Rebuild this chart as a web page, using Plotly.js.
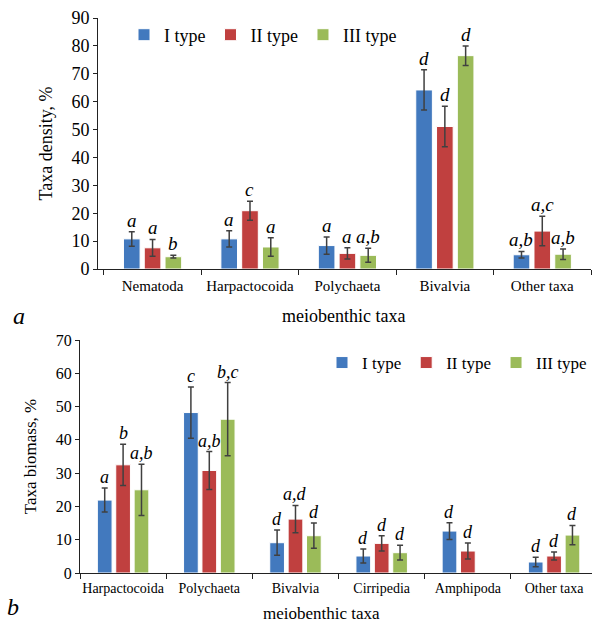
<!DOCTYPE html>
<html>
<head>
<meta charset="utf-8">
<script src="https://cdn.plot.ly/plotly-3.0.1.min.js"></script>
<style>html,body{margin:0;padding:0;background:#fff;}#chart{width:592px;height:624px;}</style>
</head>
<body>
<div id="chart"></div>
<script>
// ---- Panel a: taxa density ----
const catsA = ['Nematoda', 'Harpactocoida', 'Polychaeta', 'Bivalvia', 'Other taxa'];
const densI = [10.8, 10.8, 8.4, 64.2, 5.1];
const densIErr = [2.6, 2.9, 3.1, 7.2, 1.2];
const densII = [7.6, 20.9, 5.6, 51.1, 13.6];
const densIIErr = [3.0, 3.4, 2.0, 7.3, 5.3];
const densIII = [4.4, 7.9, 4.9, 76.5, 5.3];
const densIIIErr = [0.5, 3.3, 2.5, 3.5, 1.9];
const lettersA_I = ['a', 'a', 'a', 'd', 'a,b'];
const lettersA_II = ['a', 'c', 'a', 'd', 'a,c'];
const lettersA_III = ['b', 'a', 'a,b', 'd', 'a,b'];

// ---- Panel b: taxa biomass ----
const catsB = ['Harpactocoida', 'Polychaeta', 'Bivalvia', 'Cirripedia', 'Amphipoda', 'Other taxa'];
const bioI = [21.9, 48.2, 9.1, 5.1, 12.6, 3.3];
const bioIErr = [3.6, 7.7, 3.8, 2.1, 2.5, 1.4];
const bioII = [32.5, 30.8, 16.2, 8.9, 6.6, 5.1];
const bioIIErr = [6.2, 5.7, 4.1, 2.3, 2.4, 1.2];
const bioIII = [25.0, 46.2, 11.2, 6.1, null, 11.4];
const bioIIIErr = [7.7, 11.0, 3.8, 2.2, null, 2.9];
const lettersB_I = ['a', 'c', 'd', 'd', 'd', 'd'];
const lettersB_II = ['b', 'a,b', 'a,d', 'd', 'd', 'd'];
const lettersB_III = ['a,b', 'b,c', 'd', 'd', '', 'd'];

const seriesNames = ['I type', 'II type', 'III type'];
const colors = ['#4279BE', '#C0403F', '#9BBB59'];

const W = 592, H = 624;
const BARGAP = 0.36, GROUPGAP = 0.2;
const serif = 'Liberation Serif, Times New Roman, serif';

// axis placement (pixels -> paper fractions)
const pxA = [98, 591], pyA = [18, 269], rangeA = [-0.56, 4.5];
const pxB = [80, 592], pyB = [340, 573], rangeB = [-0.5, 5.44];
const xdA = [pxA[0] / W, pxA[1] / W], ydA = [1 - pyA[1] / H, 1 - pyA[0] / H];
const xdB = [pxB[0] / W, pxB[1] / W], ydB = [1 - pyB[1] / H, 1 - pyB[0] / H];

function barTrace(name, cats, vals, errs, color, xa, ya, lg) {
  return {
    type: 'bar', name: name, x: cats, y: vals, xaxis: xa, yaxis: ya,
    marker: {color: color, line: {color: '#ffffff', width: 1}},
    error_y: {type: 'data', array: errs, visible: true, color: '#404040', thickness: 1.5, width: 3},
    showlegend: true, legend: lg
  };
}

const traces = [
  barTrace(seriesNames[0], catsA, densI, densIErr, colors[0], 'x', 'y', 'legend'),
  barTrace(seriesNames[1], catsA, densII, densIIErr, colors[1], 'x', 'y', 'legend'),
  barTrace(seriesNames[2], catsA, densIII, densIIIErr, colors[2], 'x', 'y', 'legend'),
  barTrace(seriesNames[0], catsB, bioI, bioIErr, colors[0], 'x2', 'y2', 'legend2'),
  barTrace(seriesNames[1], catsB, bioII, bioIIErr, colors[1], 'x2', 'y2', 'legend2'),
  barTrace(seriesNames[2], catsB, bioIII, bioIIIErr, colors[2], 'x2', 'y2', 'legend2')
];

// letter annotations above error bars
const annotations = [];
function addLetters(cats, valsList, errsList, lettersList, xa, ya, px, range, fontSize) {
  const catW = (px[1] - px[0]) / (range[1] - range[0]);
  const slot = catW * (1 - BARGAP) / 3;
  for (let s = 0; s < 3; s++) {
    for (let i = 0; i < cats.length; i++) {
      const t = lettersList[s][i];
      if (!t || valsList[s][i] == null) continue;
      annotations.push({
        xref: xa, yref: ya, x: cats[i], y: valsList[s][i] + (errsList[s][i] || 0),
        xshift: (s - 1) * slot, yshift: -1,
        text: t, showarrow: false, yanchor: 'bottom', xanchor: 'center',
        font: {family: serif, size: fontSize, color: '#000', style: 'italic'}
      });
    }
  }
}
addLetters(catsA, [densI, densII, densIII], [densIErr, densIIErr, densIIIErr],
  [lettersA_I, lettersA_II, lettersA_III], 'x', 'y', pxA, rangeA, 19);
addLetters(catsB, [bioI, bioII, bioIII], [bioIErr, bioIIErr, bioIIIErr],
  [lettersB_I, lettersB_II, lettersB_III], 'x2', 'y2', pxB, rangeB, 18);

// panel letters
annotations.push({xref: 'paper', yref: 'paper', x: 11 / W, y: 1 - 316 / H, text: 'a', showarrow: false,
  xanchor: 'left', yanchor: 'middle', font: {family: serif, size: 24, style: 'italic', color: '#000'}});
annotations.push({xref: 'paper', yref: 'paper', x: 5 / W, y: 1 - 607 / H, text: 'b', showarrow: false,
  xanchor: 'left', yanchor: 'middle', font: {family: serif, size: 24, style: 'italic', color: '#000'}});
// x-axis titles
annotations.push({xref: 'paper', yref: 'paper', x: 344 / W, y: 1 - 316 / H, text: 'meiobenthic taxa', showarrow: false,
  xanchor: 'center', yanchor: 'middle', font: {family: serif, size: 18, color: '#000'}});
annotations.push({xref: 'paper', yref: 'paper', x: 321 / W, y: 1 - 613 / H, text: 'meiobenthic taxa', showarrow: false,
  xanchor: 'center', yanchor: 'middle', font: {family: serif, size: 17, color: '#000'}});

const axisCommon = {
  showgrid: false, zeroline: false, showline: true, linecolor: '#222', linewidth: 1,
  ticks: 'outside', tickcolor: '#222', automargin: false, tickangle: 0
};

const layout = {
  width: W, height: H,
  margin: {l: 0, r: 0, t: 0, b: 0},
  paper_bgcolor: '#fff', plot_bgcolor: '#fff',
  font: {family: serif, color: '#000'},
  barmode: 'group', bargap: BARGAP, bargroupgap: GROUPGAP,
  xaxis: Object.assign({}, axisCommon, {
    domain: xdA, anchor: 'y', type: 'category', range: rangeA, tickson: 'boundaries', ticklen: 5,
    ticklabelstandoff: 3,
    tickfont: {family: serif, size: 15, color: '#000'}
  }),
  yaxis: Object.assign({}, axisCommon, {
    domain: ydA, anchor: 'x', range: [0, 90], dtick: 10, ticklen: 4,
    tickfont: {family: serif, size: 18, color: '#000'},
    title: {text: 'Taxa density, %', font: {family: serif, size: 18, color: '#000'}}
  }),
  xaxis2: Object.assign({}, axisCommon, {
    domain: xdB, anchor: 'y2', type: 'category', range: rangeB, tickson: 'boundaries', ticklen: 5,
    ticklabelstandoff: 2,
    tickfont: {family: serif, size: 14, color: '#000'}
  }),
  yaxis2: Object.assign({}, axisCommon, {
    domain: ydB, anchor: 'x2', range: [0, 70], dtick: 10, ticklen: 4,
    tickfont: {family: serif, size: 16, color: '#000'},
    title: {text: 'Taxa biomass, %', font: {family: serif, size: 17, color: '#000'}}
  }),
  legend: {
    orientation: 'h', x: 124 / W, y: 1 - 35 / H, xanchor: 'left', yanchor: 'middle',
    font: {family: serif, size: 18, color: '#000'}, bgcolor: 'rgba(0,0,0,0)',
    traceorder: 'normal', borderwidth: 0
  },
  legend2: {
    orientation: 'h', x: 1.0, y: 1 - 363 / H, xanchor: 'right', yanchor: 'middle',
    font: {family: serif, size: 17, color: '#000'}, bgcolor: 'rgba(0,0,0,0)',
    traceorder: 'normal', borderwidth: 0
  },
  annotations: annotations
};

Plotly.newPlot('chart', traces, layout, {displayModeBar: false, staticPlot: true});
</script>
</body>
</html>
